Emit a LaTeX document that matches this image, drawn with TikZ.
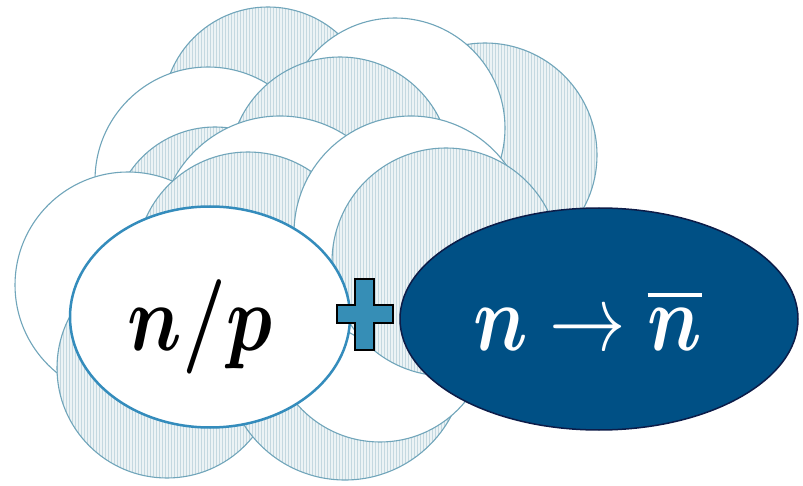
\documentclass[tikz,border=0pt]{standalone}
\usepackage{amsmath}
\usepackage{graphicx}
\usetikzlibrary{shapes.geometric,patterns}
\definecolor{circ}{RGB}{112,165,186}
\definecolor{hfill}{RGB}{236,243,245}
\definecolor{hline}{RGB}{196,216,224}
\definecolor{npblue}{RGB}{52,140,188}
\definecolor{darkfill}{RGB}{0,80,133}
\definecolor{darkedge}{RGB}{12,28,72}
\definecolor{plusfill}{RGB}{54,142,182}
\tikzset{
  wcirc/.style={fill=white, draw=circ, line width=1.1pt},
  hcirc/.style={preaction={fill=hfill}, pattern=vertical lines, pattern color=hline, draw=circ, line width=1.1pt},
  bigtext/.style={anchor=base, inner sep=0pt},
}
\newcommand{\bigmath}[1]{\scalebox{7.65}[9.45]{$#1$}}
\begin{document}
\begin{tikzpicture}[x=1pt,y=-1pt]
\useasboundingbox (0,0) rectangle (803,486);
% nucleus of circles, back to front
\path[hcirc] (485,155) circle[radius=112pt];
\path[hcirc] (268,112) circle[radius=105pt];
\path[wcirc] (395,128) circle[radius=110pt];
\path[wcirc] (208,180) circle[radius=113pt];
\path[hcirc] (340,168) circle[radius=111pt];
\path[hcirc] (215,230) circle[radius=103pt];
\path[wcirc] (280,237) circle[radius=121pt];
\path[wcirc] (128,285) circle[radius=113pt];
\path[hcirc] (248,264) circle[radius=112pt];
\path[hcirc] (167,368) circle[radius=110pt];
\path[hcirc] (345,360) circle[radius=120pt];
\path[wcirc] (380,332) circle[radius=110pt];
\path[wcirc] (411,233) circle[radius=117pt];
\path[hcirc] (446,262) circle[radius=114pt];
% ellipses
\node[ellipse, draw=npblue, line width=2.5pt, fill=white, minimum width=280pt, minimum height=221pt, inner sep=0pt] (np) at (210,317) {};
\node[bigtext] (nptext) at (200,350) {\bigmath{\boldsymbol{n/p}}};
\node[ellipse, draw=darkedge, line width=1.5pt, fill=darkfill, minimum width=398pt, minimum height=222pt, inner sep=0pt] (nn) at (599,319) {};
\node[bigtext, text=white] (nntext) at (588,350) {\bigmath{\boldsymbol{n}\rightarrow\overline{\boldsymbol{n}}}};
% plus sign
\draw[fill=plusfill, draw=black, line width=2pt] (355,279) -- (374,279) -- (374,305) -- (393,305) -- (393,323) -- (374,323) -- (374,350) -- (355,350) -- (355,323) -- (337,323) -- (337,305) -- (355,305) -- cycle;
\end{tikzpicture}
\end{document}
